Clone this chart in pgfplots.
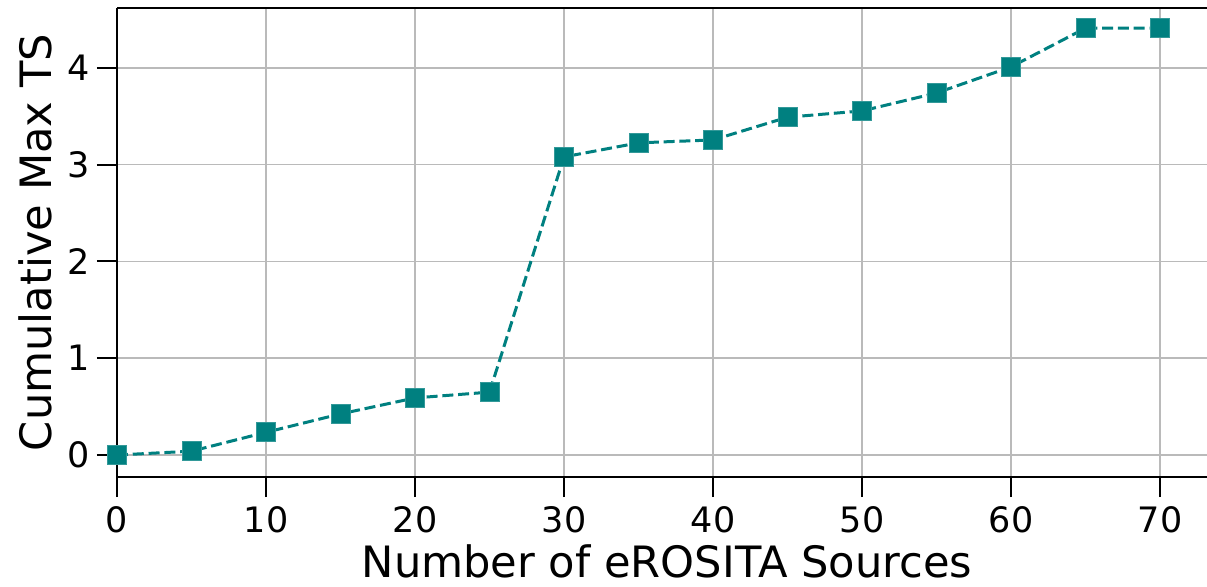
\documentclass[border=0pt]{standalone}
\usepackage{fontspec}
\setmainfont{DejaVu Sans}
\usepackage{pgfplots}
\pgfplotsset{compat=1.18}
\definecolor{teal1}{HTML}{008080}
\begin{document}
\begin{tikzpicture}
\begin{axis}[
  scale only axis,
  width=545pt, height=234.5pt,
  xmin=0, xmax=73.15,
  ymin=-0.227, ymax=4.618,
  axis x line=box, axis y line=left,
  x axis line style={-, line width=1pt},
  y axis line style={-, line width=1pt},
  xtick={0,10,...,70}, ytick={0,1,2,3,4},
  xtick pos=bottom, ytick pos=left,
  tick align=outside,
  major tick length=10pt,
  every tick/.style={black, line width=1pt},
  grid=major,
  major grid style={color=black!27, line width=0.75pt},
  /pgf/number format/assume math mode=true,
  ticklabel style={font=\fontsize{17.5}{20}\selectfont},
  xticklabel style={yshift=-1pt},
  yticklabel style={xshift=0pt},
  xlabel={Number of eROSITA Sources},
  ylabel={Cumulative Max TS},
  every axis x label/.style={at={([xshift=2.5pt,yshift=-50pt]rel axis cs:0.5,0)}, anchor=base, font=\fontsize{21.6}{24}\selectfont},
  every axis y label/.style={at={([xshift=-41pt]rel axis cs:0,0.5)}, rotate=90, anchor=center, font=\fontsize{21.6}{24}\selectfont},
  clip=false,
]
\addplot[color=teal1, line width=1.5pt, dash pattern=on 5.5pt off 2.4pt,
  mark=square*, mark size=4.75pt, mark options={solid, fill=teal1, draw=teal1!80!white, line width=0.5pt}]
  coordinates {
  (0,0) (5,0.04) (10,0.235) (15,0.425) (20,0.59) (25,0.65) (30,3.08) (35,3.225)
  (40,3.255) (45,3.49) (50,3.555) (55,3.74) (60,4.01) (65,4.41) (70,4.41)
  };
\end{axis}
\pgfresetboundingbox
\path[use as bounding box] ([xshift=-58.5pt,yshift=-54.5pt]current axis.south west) rectangle ([yshift=4pt]current axis.north east);
\end{tikzpicture}
\end{document}
